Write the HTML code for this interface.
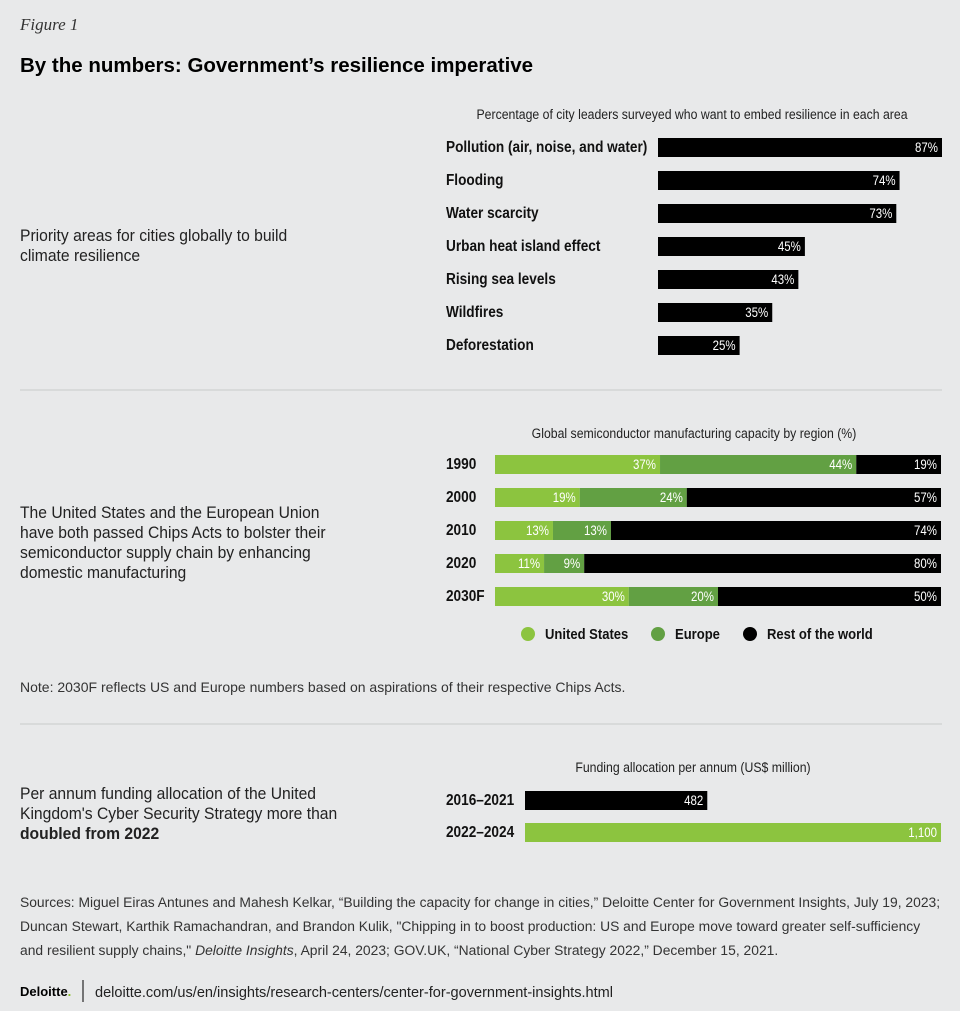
<!DOCTYPE html>
<html><head><meta charset="utf-8">
<style>
html,body{margin:0;padding:0;background:#e8e9ea;}
svg{display:block;font-family:"Liberation Sans",sans-serif;}
.b{font-weight:bold;font-size:15.5px;fill:#111;}
.t{font-size:16.5px;fill:#222;}
.s{font-size:13.5px;fill:#222;}
.v{font-size:13.5px;fill:#fff;}
</style></head><body>
<svg id="c" width="960" height="1011" viewBox="0 0 960 1011">
<text x="20" y="30" style="font-family:'Liberation Serif',serif;font-style:italic;font-size:17px;fill:#333">Figure 1</text>
<text x="20" y="72" style="font-weight:bold;font-size:20.5px;fill:#000">By the numbers: Government’s resilience imperative</text>

<text class="t" transform="translate(20,0) scale(0.95,1) translate(-20,0)"><tspan x="20" y="241">Priority areas for cities globally to build</tspan><tspan x="20" y="261">climate resilience</tspan></text>
<text class="s" x="692" y="119" text-anchor="middle" transform="translate(692,0) scale(0.91,1) translate(-692,0)">Percentage of city leaders surveyed who want to embed resilience in each area</text>
<g id="g1"></g>
<line x1="20" x2="942" y1="390" y2="390" stroke="#c9cacb"/>

<text class="t" transform="translate(20,0) scale(0.95,1) translate(-20,0)"><tspan x="20" y="518">The United States and the European Union</tspan><tspan x="20" y="538">have both passed Chips Acts to bolster their</tspan><tspan x="20" y="558">semiconductor supply chain by enhancing</tspan><tspan x="20" y="578">domestic manufacturing</tspan></text>
<text class="s" x="694" y="438" text-anchor="middle" transform="translate(694,0) scale(0.91,1) translate(-694,0)">Global semiconductor manufacturing capacity by region (%)</text>
<g id="g2"></g>
<g>
<circle cx="528" cy="634" r="7" fill="#8cc43f"/><text class="b" x="545" y="639" style="font-size:15px" transform="translate(545,0) scale(0.87,1) translate(-545,0)">United States</text>
<circle cx="658" cy="634" r="7" fill="#62a043"/><text class="b" x="675" y="639" style="font-size:15px" transform="translate(675,0) scale(0.87,1) translate(-675,0)">Europe</text>
<circle cx="750" cy="634" r="7" fill="#000"/><text class="b" x="767" y="639" style="font-size:15px" transform="translate(767,0) scale(0.87,1) translate(-767,0)">Rest of the world</text>
</g>
<text x="20" y="692" style="font-size:14px;fill:#333">Note: 2030F reflects US and Europe numbers based on aspirations of their respective Chips Acts.</text>
<line x1="20" x2="942" y1="724" y2="724" stroke="#c9cacb"/>

<text class="t" transform="translate(20,0) scale(0.95,1) translate(-20,0)"><tspan x="20" y="799">Per annum funding allocation of the United</tspan><tspan x="20" y="819">Kingdom's Cyber Security Strategy more than</tspan><tspan x="20" y="839" font-weight="bold">doubled from 2022</tspan></text>
<text class="s" x="693" y="772" text-anchor="middle" transform="translate(693,0) scale(0.91,1) translate(-693,0)">Funding allocation per annum (US$ million)</text>
<g id="g3"></g>

<text style="font-size:14px;fill:#333" transform="translate(20,0) scale(0.99,1) translate(-20,0)"><tspan x="20" y="907">Sources: Miguel Eiras Antunes and Mahesh Kelkar, “Building the capacity for change in cities,” Deloitte Center for Government Insights, July 19, 2023;</tspan><tspan x="20" y="931">Duncan Stewart, Karthik Ramachandran, and Brandon Kulik, "Chipping in to boost production: US and Europe move toward greater self-sufficiency</tspan><tspan x="20" y="955">and resilient supply chains," <tspan font-style="italic">Deloitte Insights</tspan>, April 24, 2023; GOV.UK, “National Cyber Strategy 2022,” December 15, 2021.</tspan></text>
<text x="20" y="996" style="font-weight:bold;font-size:13px;fill:#000">Deloitte<tspan fill="#86bc25">.</tspan></text>
<line x1="83" x2="83" y1="980" y2="1002" stroke="#000"/>
<text x="95" y="997" style="font-size:15px;fill:#222" transform="translate(95,0) scale(0.97,1) translate(-95,0)">deloitte.com/us/en/insights/research-centers/center-for-government-insights.html</text>
</svg>
<script>
const NS="http://www.w3.org/2000/svg";
const cats1=["Pollution (air, noise, and water)","Flooding","Water scarcity","Urban heat island effect","Rising sea levels","Wildfires","Deforestation"];
const vals1=[87,74,73,45,43,35,25];
const years2=["1990","2000","2010","2020","2030F"];
const us2=[37,19,13,11,30];
const eu2=[44,24,13,9,20];
const row2=[19,57,74,80,50];
const cats3=["2016–2021","2022–2024"];
const vals3=[482,1100];
const labels3=["482","1,100"];
function mk(tag,a,p){const e=document.createElementNS(NS,tag);for(const k in a)e.setAttribute(k,a[k]);p.appendChild(e);return e;}
function sq(e,x,s){e.setAttribute('transform','translate('+x+',0) scale('+s+',1) translate('+(-x)+',0)');}
const LS=0.88, VS=0.85;
// chart1
const g1=document.getElementById('g1');
const x1=v=>658+v*(284/87), y1=i=>138+i*33;
cats1.forEach((c,i)=>{
  const t=mk('text',{x:446,y:y1(i)+14,class:'b'},g1);t.textContent=c;sq(t,446,LS);
  
  
  const r=mk('rect',{x:x1(0),y:y1(i),width:x1(vals1[i])-x1(0),height:19,fill:'#000'},g1);
  
  
  const xe=x1(vals1[i])-4;
  const v=mk('text',{x:xe,y:y1(i)+14,class:'v','text-anchor':'end'},g1);v.textContent=vals1[i]+'%';sq(v,xe,VS);
  
  
});
// chart2
const g2=document.getElementById('g2');
const x2=v=>495+v*4.46, y2=i=>455+i*33;
years2.forEach((c,i)=>{
  const t=mk('text',{x:446,y:y2(i)+14,class:'b'},g2);t.textContent=c;sq(t,446,LS);
  
  
  const segs=[[us2[i],'#8cc43f'],[eu2[i],'#62a043'],[row2[i],'#000']];
  let acc=0;
  segs.forEach(([v,col])=>{
    const r=mk('rect',{x:x2(acc),y:y2(i),width:x2(acc+v)-x2(acc),height:19,fill:col},g2);
    
    
    acc+=v;
    const xe=x2(acc)-4;
    const tv=mk('text',{x:xe,y:y2(i)+14,class:'v','text-anchor':'end'},g2);tv.textContent=v+'%';sq(tv,xe,VS);
    
    
  });
});
// chart3
const g3=document.getElementById('g3');
const x3=v=>525+v*(416/1100), y3=i=>791+i*32;
cats3.forEach((c,i)=>{
  const t=mk('text',{x:446,y:y3(i)+14,class:'b'},g3);t.textContent=c;sq(t,446,LS);
  
  
  const r=mk('rect',{x:x3(0),y:y3(i),width:x3(vals3[i])-x3(0),height:19,fill:i?'#8cc43f':'#000'},g3);
  
  
  const xe=x3(vals3[i])-4;
  const v=mk('text',{x:xe,y:y3(i)+14,class:'v','text-anchor':'end'},g3);v.textContent=labels3[i];sq(v,xe,VS);
  
  
});
</script>
</body></html>
